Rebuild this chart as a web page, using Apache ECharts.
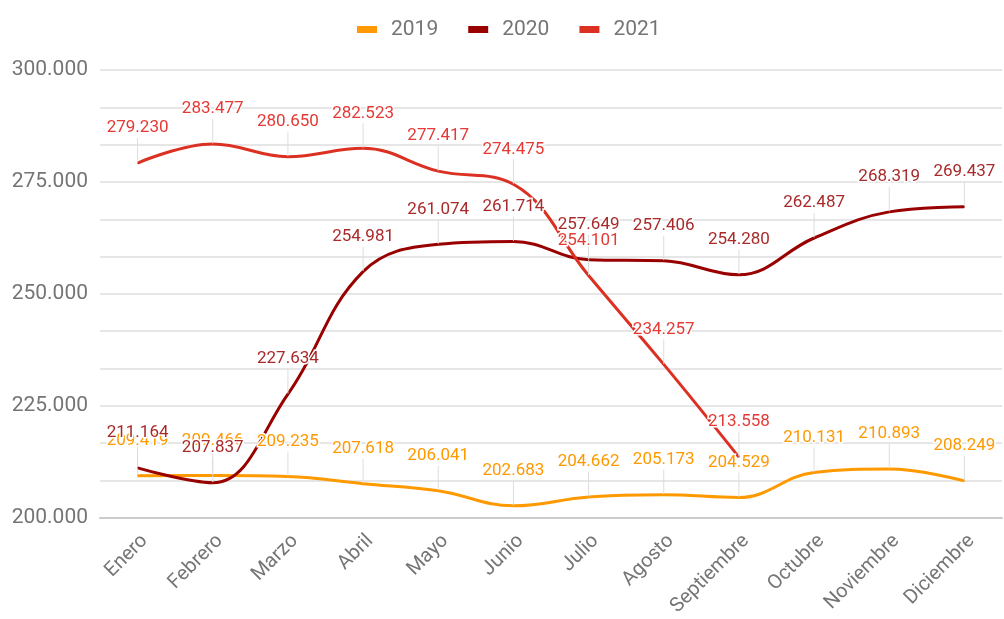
<!DOCTYPE html>
<html>
<head>
<meta charset="UTF-8">
<title>Ventas mensuales</title>
<script type="text/javascript" src="https://cdn.jsdelivr.net/npm/echarts@6/dist/echarts.min.js"></script>
<style>
html,body{margin:0;padding:0;background:#fff;}
</style>
</head>
<body>
<div id="main" style="width:1004px;height:619px"></div>

<script type="text/javascript">
var meses=['Enero','Febrero','Marzo','Abril','Mayo','Junio','Julio','Agosto','Septiembre','Octubre','Noviembre','Diciembre'];
var datos2019=[209419,209466,209235,207618,206041,202683,204662,205173,204529,210131,210893,208249];
var datos2020=[211164,207837,227634,254981,261074,261714,257649,257406,254280,262487,268319,269437];
var datos2021=[279230,283477,280650,282523,277417,274475,254101,234257,213558,null,null,null];

// formato con punto de miles
function fmt(v){
  return String(v).replace(/\B(?=(\d{3})+(?!\d))/g,'.');
}

function serie(nombre,datos,colorLinea,colorTexto){
  return {
    name:nombre,
    type:'line',
    data:datos,
    smooth:0.4,
    symbol:'circle',
    symbolSize:1,
    itemStyle:{color:colorLinea},
    lineStyle:{color:colorLinea,width:3},
    label:{
      show:true,
      position:'top',
      distance:2,
      color:colorTexto,
      fontSize:17,
      fontFamily:'Roboto',
      textBorderColor:'#fff',
      textBorderWidth:3,
      formatter:function(p){return fmt(p.value);}
    },
    labelLayout:{dy:-24},
    labelLine:{show:true,lineStyle:{color:'#dddddd',width:1}},
    emphasis:{disabled:true}
  };
}

var mychart=echarts.init(document.getElementById('main'));
var option={
  animation:false,
  textStyle:{fontFamily:'Roboto'},
  legend:{
    top:14,
    left:352,
    itemWidth:20,
    itemHeight:7,
    itemGap:30,
    icon:'rect',
    textStyle:{color:'#757575',fontSize:21,fontFamily:'Roboto',padding:[0,0,0,9]},
    data:['2019','2020','2021']
  },
  grid:{left:100,right:2,top:70,bottom:96,containLabel:false},
  xAxis:{
    type:'category',
    data:meses,
    axisLine:{lineStyle:{color:'#cccccc',width:2}},
    axisTick:{show:false},
    axisLabel:{rotate:45,color:'#757575',fontSize:20,fontFamily:'Roboto',margin:13,verticalAlign:'top',interval:0}
  },
  yAxis:{
    type:'value',
    min:200000,
    max:300000,
    interval:25000,
    axisLine:{show:false},
    axisTick:{show:false},
    axisLabel:{color:'#757575',fontSize:21,fontFamily:'Roboto',margin:12,formatter:fmt},
    splitLine:{lineStyle:{color:'#e6e6e6',width:2}},
    minorTick:{show:false,splitNumber:3},
    minorSplitLine:{show:true,lineStyle:{color:'#e6e6e6',width:2}}
  },
  series:[
    serie('2019',datos2019,'#ff9900','#ff9900'),
    serie('2020',datos2020,'#990000','#a82a2a'),
    serie('2021',datos2021,'#dc3022','#e53935')
  ]
};
mychart.setOption(option);
</script>
</body>
</html>
